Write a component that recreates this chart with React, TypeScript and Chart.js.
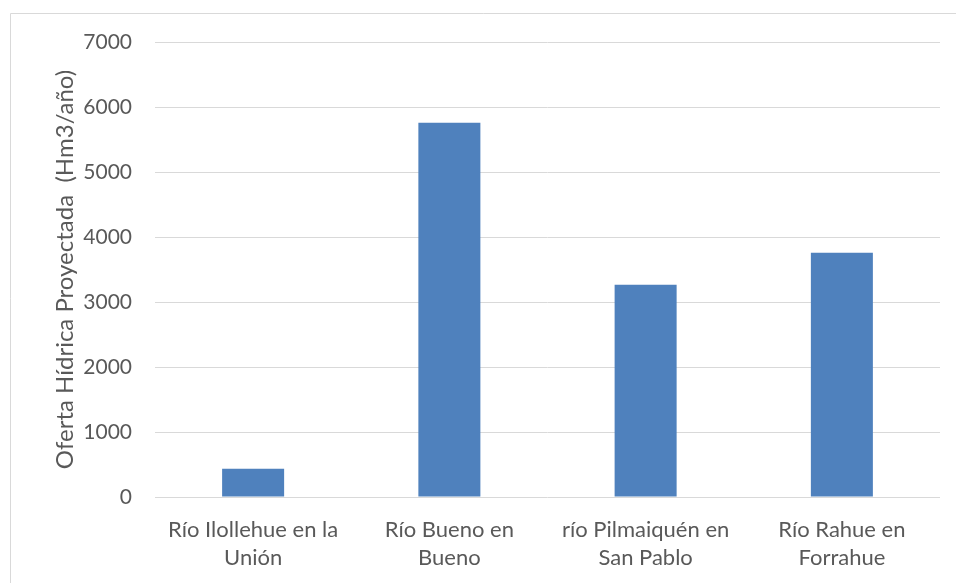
import React, { useEffect, useRef } from "react";
import { Chart, registerables } from "chart.js";

Chart.register(...registerables);

const categories: string[][] = [
  ["Río Ilollehue en la", "Unión"],
  ["Río Bueno en", "Bueno"],
  ["río Pilmaiquén en", "San Pablo"],
  ["Río Rahue en", "Forrahue"],
];
const values: number[] = [435, 5758, 3266, 3758];
const yTitle = "Oferta Hídrica Proyectada  (Hm3/año)";
const yMin = 0;
const yMax = 7000;
const yStep = 1000;

const FONT = "Lato, 'Open Sans', sans-serif";
const TEXT = "#595959";
const GRID = "#d9d9d9";

const frame = {
  id: "frame",
  beforeDraw(chart: any) {
    const { ctx, width, height } = chart;
    ctx.save();
    ctx.strokeStyle = GRID;
    ctx.lineWidth = 1;
    ctx.beginPath();
    ctx.moveTo(10.5, height);
    ctx.lineTo(10.5, 13.5);
    ctx.lineTo(width, 13.5);
    ctx.stroke();
    ctx.restore();
  },
};

export default function App() {
  const ref = useRef<HTMLCanvasElement>(null);
  useEffect(() => {
    if (!ref.current) return;
    const chart = new Chart(ref.current, {
      type: "bar",
      data: {
        labels: categories,
        datasets: [
          {
            data: values,
            backgroundColor: "#4F81BD",
            borderWidth: 0,
            categoryPercentage: 1,
            barPercentage: 0.316,
          },
        ],
      },
      options: {
        responsive: false,
        animation: false,
        layout: { padding: { left: 51, right: 16, top: 42, bottom: 11 } },
        plugins: {
          legend: { display: false },
          tooltip: { enabled: false },
        },
        scales: {
          x: {
            grid: { display: false, drawTicks: false },
            border: { display: false },
            ticks: {
              color: TEXT,
              font: { family: FONT, size: 22, lineHeight: "28px" },
              padding: 19,
              maxRotation: 0,
              autoSkip: false,
            },
            afterFit(scale: any) {
              scale.height = 75;
            },
          },
          y: {
            min: yMin,
            max: yMax,
            grid: { color: GRID, lineWidth: 1, drawTicks: false },
            border: { display: false },
            ticks: {
              stepSize: yStep,
              color: TEXT,
              font: { family: FONT, size: 21 },
              padding: 23,
              callback: (v: any) => String(v),
            },
            title: {
              display: true,
              text: yTitle,
              color: TEXT,
              font: { family: FONT, size: 24 },
              padding: { top: 0, bottom: 0 },
            },
            afterFit(scale: any) {
              scale.width = 104;
            },
          },
        },
      },
      plugins: [frame],
    });
    return () => chart.destroy();
  }, []);
  return (
    <div style={{ position: "absolute", left: 0, top: 0, width: 956, height: 583, background: "#fff" }}>
      <canvas ref={ref} width={956} height={583} style={{ display: "block" }} />
    </div>
  );
}
